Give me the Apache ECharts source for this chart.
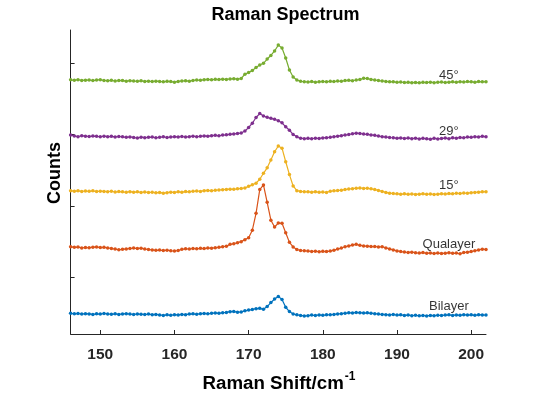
<!DOCTYPE html>
<html>
<head>
<meta charset="utf-8">
<script src="https://cdn.jsdelivr.net/npm/echarts@6/dist/echarts.min.js"></script>
<style>
html,body{margin:0;padding:0;background:#fff;}
#chart{width:538px;height:395px;}
</style>
</head>
<body>
<div id="chart"></div>
<script>
// Raman shift (cm^-1)
const ramanShift = [
146,146.5,147,147.5,148,148.5,149,149.5,150,150.5,
151,151.5,152,152.5,153,153.5,154,154.5,155,155.5,
156,156.5,157,157.5,158,158.5,159,159.5,160,160.5,
161,161.5,162,162.5,163,163.5,164,164.5,165,165.5,
166,166.5,167,167.5,168,168.5,169,169.5,170,170.5,
171,171.5,172,172.5,173,173.5,174,174.5,175,175.5,
176,176.5,177,177.5,178,178.5,179,179.5,180,180.5,
181,181.5,182,182.5,183,183.5,184,184.5,185,185.5,
186,186.5,187,187.5,188,188.5,189,189.5,190,190.5,
191,191.5,192,192.5,193,193.5,194,194.5,195,195.5,
196,196.5,197,197.5,198,198.5,199,199.5,200,200.5,
201,201.5,202
];

const bilayer = [
495,488,492,484,490,486,480,488,484,492,
486,482,488,480,486,490,484,478,486,482,
478,484,476,480,472,466,474,468,476,472,
480,476,484,488,482,490,494,488,496,500,
496,504,508,518,522,510,515,530,540,548,
560,565,551,590,645,695,732,690,580,520,
485,474,466,458,462,470,464,472,468,474,
476,480,486,490,496,502,500,506,504,498,
502,496,490,484,480,476,472,478,470,474,
466,470,462,468,460,464,458,466,462,468,
464,470,474,466,472,468,476,470,474,468,
476,472,471
];

const qualayer = [
1429,1420,1424,1412,1418,1414,1422,1426,1416,1420,
1412,1404,1396,1386,1392,1398,1404,1410,1402,1408,
1396,1390,1384,1378,1382,1374,1380,1372,1368,1376,
1392,1400,1396,1404,1400,1406,1402,1410,1408,1414,
1420,1428,1436,1462,1470,1485,1500,1528,1555,1660,
1897,2230,2294,2052,1800,1705,1760,1757,1625,1490,
1425,1390,1376,1372,1368,1362,1366,1358,1364,1360,
1368,1380,1396,1410,1428,1440,1452,1462,1448,1440,
1436,1430,1432,1426,1428,1412,1398,1384,1370,1360,
1354,1348,1352,1344,1340,1346,1336,1342,1334,1340,
1332,1338,1344,1336,1340,1330,1346,1352,1360,1372,
1384,1394,1390
];

const deg15 = [
2214,2208,2212,2204,2210,2206,2212,2202,2208,2204,
2200,2206,2196,2202,2198,2192,2200,2194,2198,2190,
2196,2188,2192,2184,2190,2180,2186,2194,2190,2198,
2194,2202,2198,2206,2210,2204,2214,2218,2212,2220,
2224,2228,2232,2236,2234,2240,2246,2252,2275,2298,
2320,2375,2458,2535,2645,2760,2841,2810,2620,2440,
2280,2215,2204,2200,2198,2194,2200,2192,2196,2188,
2206,2212,2216,2222,2230,2238,2242,2248,2252,2246,
2248,2240,2230,2218,2204,2190,2180,2174,2170,2166,
2170,2164,2168,2162,2166,2170,2164,2168,2162,2166,
2172,2168,2174,2170,2178,2174,2182,2178,2186,2190,
2194,2198,2200
];

const deg29 = [
2994,2982,2972,2985,2978,2974,2980,2976,2970,2978,
2972,2976,2968,2974,2970,2962,2968,2960,2952,2964,
2958,2962,2966,2956,2962,2970,2960,2966,2972,2968,
2974,2966,2972,2978,2970,2976,2982,2978,2986,2990,
2984,2994,2998,3004,3010,3016,3022,3050,3100,3160,
3240,3295,3262,3243,3229,3215,3195,3165,3110,3062,
3002,2972,2950,2944,2948,2942,2950,2946,2954,2958,
2962,2970,2978,2986,2994,3002,3012,3020,3016,3008,
3004,2996,2990,2980,2972,2966,2960,2956,2950,2954,
2946,2952,2944,2950,2940,2948,2942,2936,2948,2940,
2946,2952,2944,2956,2950,2960,2956,2966,2962,2970,
2968,2976,2972
];

const deg45 = [
3768,3762,3770,3760,3764,3766,3758,3765,3770,3760,
3756,3762,3752,3758,3760,3750,3756,3752,3748,3754,
3746,3750,3744,3750,3746,3740,3748,3744,3736,3746,
3752,3756,3750,3760,3766,3762,3770,3774,3768,3776,
3772,3778,3774,3780,3784,3778,3787,3847,3871,3899,
3941,3976,4000,4060,4110,4173,4255,4215,4075,3906,
3808,3766,3748,3742,3738,3744,3736,3740,3746,3740,
3748,3744,3752,3748,3758,3762,3756,3766,3772,3790,
3786,3774,3766,3758,3752,3746,3740,3742,3734,3738,
3730,3734,3728,3732,3726,3734,3730,3736,3728,3734,
3738,3730,3736,3740,3734,3742,3738,3744,3740,3736,
3744,3740,3742
];

const seriesNames = ['Bilayer', 'Qualayer', '15°', '29°', '45°'];
const seriesValues = [bilayer, qualayer, deg15, deg29, deg45];
const seriesColors = ['#0072BD', '#D95319', '#EDB120', '#7E2F8E', '#77AC30'];

// curve annotations (data coordinates)
const labelTexts = ['Bilayer', 'Qualayer', '15°', '29°', '45°'];
const labelX = [197, 197, 197, 197, 197];
const labelY = [588, 1467, 2294, 3051, 3836];

const xTicks = [150, 160, 170, 180, 190, 200];
const yTicks = [1000, 2000, 3000, 4000];

const axisColor = '#262626';
const chart = echarts.init(document.getElementById('chart'), null, {renderer: 'canvas'});

const series = seriesValues.map((vals, i) => ({
  name: seriesNames[i],
  type: 'line',
  data: ramanShift.map((x, j) => [x, vals[j]]),
  symbol: 'circle',
  symbolSize: 3.5,
  showSymbol: true,
  lineStyle: {color: seriesColors[i], width: 1.2},
  itemStyle: {color: seriesColors[i]},
  silent: true
}));

series.push({
  type: 'scatter',
  data: labelTexts.map((t, i) => [labelX[i], labelY[i], t]),
  symbolSize: 0,
  silent: true,
  label: {
    show: true,
    position: 'inside',
    formatter: p => p.value[2],
    color: '#000',
    fontFamily: 'Liberation Sans, Arial, sans-serif',
    fontSize: 13
  }
});

chart.setOption({
  animation: false,
  backgroundColor: '#fff',
  title: {
    text: 'Raman Spectrum',
    left: 280.6,
    textAlign: 'center',
    top: 1,
    textStyle: {fontFamily: 'Liberation Sans, Arial, sans-serif', fontWeight: 'bold', fontSize: 18, color: '#000'}
  },
  grid: {left: 70.6, right: 52, top: 30, bottom: 61, containLabel: false, outerBoundsMode: 'none'},
  xAxis: {
    type: 'value',
    min: 146,
    max: 202,
    axisLine: {show: true, lineStyle: {color: axisColor, width: 1}},
    axisTick: {show: true, inside: true, length: 4, customValues: xTicks, lineStyle: {color: axisColor}},
    axisLabel: {
      customValues: xTicks,
      margin: 13,
      color: axisColor,
      fontFamily: 'Liberation Sans, Arial, sans-serif',
      fontWeight: 'bold',
      fontSize: 15.5
    },
    splitLine: {show: false}
  },
  yAxis: {
    type: 'value',
    min: 205,
    max: 4467,
    axisLine: {show: true, lineStyle: {color: axisColor, width: 1}},
    axisTick: {show: true, inside: true, length: 4, customValues: yTicks, lineStyle: {color: axisColor}},
    axisLabel: {show: false},
    splitLine: {show: false}
  },
  graphic: [
    {
      type: 'text',
      x: 55,
      y: 173,
      rotation: Math.PI / 2,
      style: {
        text: 'Counts',
        fill: '#000',
        font: 'bold 18px "Liberation Sans", Arial, sans-serif',
        textAlign: 'center',
        textVerticalAlign: 'middle'
      }
    },
    {
      type: 'text',
      x: 279,
      y: 382,
      style: {
        text: '{a|Raman Shift/cm}{b|-1}',
        textAlign: 'center',
        textVerticalAlign: 'middle',
        rich: {
          a: {fontFamily: 'Liberation Sans, Arial, sans-serif', fontWeight: 'bold', fontSize: 18.7, fill: '#000', lineHeight: 22, verticalAlign: 'bottom'},
          b: {fontFamily: 'Liberation Sans, Arial, sans-serif', fontWeight: 'bold', fontSize: 12, fill: '#000', lineHeight: 22, verticalAlign: 'top', padding: [0, 0, 0, 1]}
        }
      }
    }
  ],
  series: series
});
</script>
</body>
</html>
